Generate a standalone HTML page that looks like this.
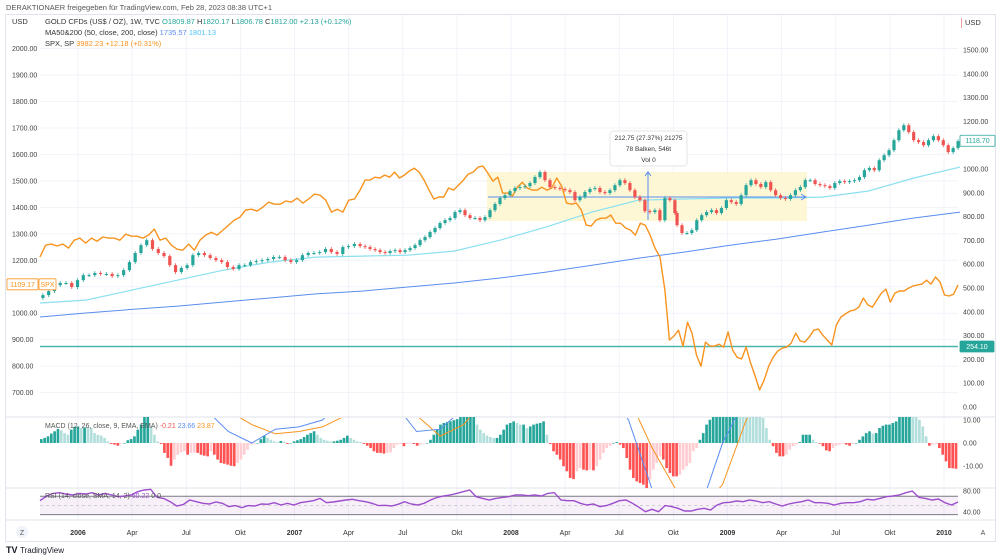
<!DOCTYPE html>
<html><head><meta charset="utf-8">
<style>
html,body{margin:0;padding:0;background:#fff;}
svg{display:block;font-family:"Liberation Sans",sans-serif;}
</style></head>
<body>
<svg id="c" width="1000" height="560" viewBox="0 0 1000 560" xmlns="http://www.w3.org/2000/svg">
<rect x="0" y="0" width="1000" height="560" fill="#fff"/>
<rect x="5.5" y="14.5" width="990" height="527" fill="none" stroke="#e0e3eb"/>
<text x="6" y="10" font-size="7.5" fill="#555">DERAKTIONAER freigegeben für TradingView.com, Feb 28, 2023 08:38 UTC+1</text>
<g id="grid"></g>
<rect x="487" y="172" width="320" height="49" fill="#fdf6cf" opacity="0.85"/>
<g id="main"></g>
<g id="macd"></g>
<g id="rsi"></g>
<g id="axes"></g>
<g font-size="7.5">
<text x="12" y="24" fill="#333">USD</text>
<text x="45" y="24" fill="#333">GOLD CFDs (US$ / OZ), 1W, TVC <tspan fill="#26a69a">O</tspan><tspan fill="#26a69a">1809.87</tspan> H<tspan fill="#26a69a">1820.17</tspan> L<tspan fill="#26a69a">1806.78</tspan> C<tspan fill="#26a69a">1812.00</tspan> <tspan fill="#26a69a">+2.13 (+0.12%)</tspan></text>
<text x="45" y="35" fill="#333">MA50&amp;200 (50, close, 200, close) <tspan fill="#5b8def">1735.57</tspan> <tspan fill="#4fc3f7">1801.13</tspan></text>
<text x="45" y="46" fill="#333">SPX, SP <tspan fill="#f7931e">3982.23</tspan> <tspan fill="#f7931e">+12.18 (+0.31%)</tspan></text>
<rect x="961" y="18" width="1" height="10" fill="#ef9a9a"/>
<text x="965" y="25" fill="#333">USD</text>
<text x="45" y="428" fill="#555" font-size="7">MACD (12, 26, close, 9, EMA, EMA) <tspan fill="#ef5350">-0.21</tspan> <tspan fill="#5b8def">23.66</tspan> <tspan fill="#f7931e">23.87</tspan></text>
<text x="45" y="498" fill="#555" font-size="7">RSI (14, close, SMA, 14, 2) <tspan fill="#9c4dcc">60.22</tspan> 0 0</text>
</g>
<g>
<rect x="610" y="131" width="77" height="35" rx="3" fill="#fff" stroke="#e6e6e6"/>
<text x="648.5" y="140" font-size="6.5" fill="#333" text-anchor="middle">212.75 (27.37%) 21275</text>
<text x="648.5" y="151" font-size="6.5" fill="#333" text-anchor="middle">78 Balken, 546t</text>
<text x="648.5" y="162" font-size="6.5" fill="#333" text-anchor="middle">Vol 0</text>
</g>
<g>
<circle cx="22" cy="532" r="6" fill="#f0f3fa"/>
<text x="22" y="535" font-size="7" fill="#555" text-anchor="middle">Z</text>
<text x="983" y="535" font-size="7" fill="#555" text-anchor="middle">A</text>
<text x="6" y="553" font-size="9" font-weight="bold" fill="#131722">TV</text>
<text x="20" y="553" font-size="8" fill="#131722">TradingView</text>
</g>
</svg>
<script>
// ---- data ----
const goldSeg1 = [470,487,512,521,521,504,533,554,554,563,559,559,550,554,575,609,647,680,701,664,647,634,596,567,584,596,638,647,638,626,617,609,588,580,596,596,609,613,617,622,630,630,617,609,617,638,647,647,651,664,651,643,672,676,685,676];
const goldSeg2 = [672,664,659,651,647,655,659,651,659,668,680,701,714,735,752,773,785,794,819,827,806,794,794,785,798,827,853,878,890,907,920,924,928,941,966,987,953,924,920,916,911,903,869,882,903,916,920,903,899,911,932,953,941,911,882,869,823,819,827,785,878,869,815];
const goldSeg3 = [764,731,731,743,785,806,819,827,815,836,869,861,853,890,932,953,937,924,945,911,890,878,874,890,911,924,953,953,937,932,928,920,941,949,945,949,953,966,995,1004,995,1037,1058,1079,1121,1163,1184,1155,1121,1113,1100,1121,1138,1121,1100,1071,1088,1117];
const goldSegDates = [[2005.838,2007.303],[2007.326,2008.757],[2008.767,2010.065]];
const spxSeg1 = [1212,1257,1261,1254,1261,1246,1276,1284,1265,1284,1272,1288,1284,1284,1276,1299,1291,1291,1284,1295,1318,1276,1284,1257,1242,1238,1261,1238,1276,1295,1306,1295,1314,1333,1352,1363,1390,1393,1386,1401,1420,1412,1412,1424,1420,1435,1416,1431,1450,1446,1427,1382,1393,1382,1427,1431,1465];
const spxSeg2 = [1503,1503,1514,1511,1522,1514,1533,1511,1522,1537,1548,1533,1503,1465,1431,1439,1439,1473,1465,1484,1503,1526,1533,1552,1556,1529,1499,1514,1454,1454,1443,1476,1495,1473,1465,1465,1476,1465,1473,1511,1480,1416,1412,1416,1390,1333,1329,1352,1359,1359,1371,1340,1340,1322,1314,1295,1340,1333,1295,1246,1212];
const spxSeg3 = [1087,899,914,936,876,966,925,842,800,891,876,876,883,872,929,861,834,827,872,812,763,710,747,800,834,857,868,872,887,925,895,891,910,936,940,917,899,880,955,985,997,1008,1012,1023,1057,1031,1023,1050,1076,1091,1042,1076,1084,1084,1095,1103,1107,1110,1125,1110,1137,1118,1069,1065,1072,1107];
const spxSegDates = [[2005.824,2007.303],[2007.326,2008.688],[2008.711,2010.065]];
const ma50 = [437,449,491,533,575,609,630,634,638,655,701,756,819,869,874,878,878,882,907,962,1008];
const ma200 = [378,395,410,424,441,458,475,487,504,521,542,567,596,625,651,680,705,735,764,794,819];
const maDates = [2005.824,2010.074];
const macdHist = [1.7,2.2,2.9,4.1,5.1,6.1,5.5,4.3,3.6,5.8,7,7.2,6.5,6.8,6.7,6.5,4.3,3.6,3.2,2.2,0.7,-0.4,-0.7,-1.2,-0.3,0,1.2,1.7,2.9,5.8,8,11.3,11.6,7.2,3.6,0.7,-0.4,-4.3,-6.5,-9.9,-7.2,-5.1,-4.1,-3.6,-5.1,-4.3,-4.1,-4.3,-5.1,-5.5,-5.8,-3.6,-5.1,-7.2,-8.7,-9,-9.4,-9.9,-10.1,-8.7,-7.2,-5.1,-2.9,-0.7,-0.4,0,1.7,3.2,2.2,1.4,0.7,0.4,0.9,0.6,-0.4,0,0.7,1.2,1.7,2.6,3.6,4.3,5.1,3.6,2.2,1.4,1,0.7,0.7,1,1.4,2.2,3.2,2.2,1.4,0.7,0.4,-0.4,-1.2,-2.2,-3.6,-4.3,-4.3,-4.6,-4.3,-4.1,-2.2,-0.7,-0.4,-1.4,-0.4,-0.3,-0.4,-1.2,-0.7,-0.3,0,1.4,3.6,5.8,8,8.7,9.1,9.4,9.9,10.4,11.3,11.5,11.8,12,12.5,8,5.8,4.3,3.2,2.6,2.2,
2.2,3.6,5.8,8,8.7,9.4,8.7,8,8,6.5,7.2,8,8.4,8.7,9.4,3.6,-0.4,-3.6,-5.1,-7.2,-10.1,-12.3,-15.2,-15.7,-12.3,-10.9,-11.6,-11.9,-11.6,-11.9,-10.1,-7.2,-4.3,-2.2,-1.2,0,0.4,-0.7,-2.2,-6.5,-11.6,-15.2,-16.7,-17.4,-18.1,-19.6,-15.9,-11.6,-8.7,-5.8,-7.2,-10.9,-13,-14.5,-14.5,-13.8,-11.6,-10.1,-8.7,-3.6,-2.2,1.4,4.3,8,10.1,12,14,16,18,20,21,22,22.5,22,21,20,19,17,15,13,10.9,6.5,1.4,-1.4,-4.3,-5.8,-5.8,-5.1,-2.9,-1.4,-0.7,0.4,3.6,3.6,3.6,1.4,0.4,-0.3,-1.4,-3.2,-3.6,-2.2,-1.2,-0.7,-0.4,-0.7,-1.2,-0.4,0,1.4,2.9,4.3,5.1,4.1,4.3,6.5,7.5,8,8,8.7,9.4,12,13,14,15,14,13,10.1,7.2,2.9,-1.2,-0.7,-0.4,-2.2,-5.1,-8,-10.9,-11,-11.2];
const macdLine = [20,20,25,25,25,25,25,15,5,0,6,7,10,20,25,18,5,6,15,25,25,25,25,25,25,10,-20,-20,-30,0,20,25,25,25,25,25,25,25,25,25];
const signalLine = [11,20,25,25,25,25,25,18,14,8,4,5,7,12,25,20,12,3,8,20,25,25,25,25,25,20,-2,-20,-30,-18,10,25,25,25,25,25,25,25,25,25];
const rsiVals = [61.6,70.5,75.5,76.8,74.3,72.4,75.5,74.3,76.8,72.4,75.5,72.4,69.2,70.5,72.4,78.7,81.9,83.2,67.9,66,59.7,51.4,54,62.9,59.7,56.5,55.2,59,56.5,50.2,52.1,48.2,52.1,51.4,55.2,54.6,57.8,53.3,56.5,53.3,57.8,59.7,61.6,66,57.8,59,61,62.9,64.1,61.6,59.7,56.5,52.1,52.7,51.4,54.6,59.7,55.2,53.3,56.5,62.9,67.9,70.5,72.4,75.5,78.7,81.9,69.2,66,62.9,66,67.9,
69.2,72.4,72.4,71.1,72.4,70.5,75.5,76.8,62.9,61.6,61.6,56.5,53.3,55.2,50.2,52.1,56.5,61.6,62.9,56.5,48.9,40.6,45.1,40.6,52.1,50.2,47,41.9,41.9,45.1,47,43.8,53.3,57.8,58.4,61,59.7,62.9,61,57.8,59.7,55.2,51.4,55.2,57.8,59.7,62.9,57.8,57.8,56.5,53.3,56.5,57.8,57.8,59.7,64.1,62.9,66,69.2,70.5,72.4,76.8,79.9,67.9,66,62.9,64.8,57.8,53.3,59];
const leftTicks = [700,800,900,1000,1100,1200,1300,1400,1500,1600,1700,1800,1900,2000];
const rightTicks = [0,100,200,300,400,500,600,700,800,900,1000,1100,1200,1300,1400,1500];
const timeLabels = ["2006","Apr","Jul","Okt","2007","Apr","Jul","Okt","2008","Apr","Jul","Okt","2009","Apr","Jul","Okt","2010"];
const timeDates = [2006,2006.25,2006.5,2006.75,2007,2007.25,2007.5,2007.75,2008,2008.25,2008.5,2008.75,2009,2009.25,2009.5,2009.75,2010];
const supportLevel = 254.1;

// ---- scales ----
const X0=40, X1=958;
const xOf = d => 78 + (d-2006)*216.5;
const goldY = v => 407 - v*0.238;
const spxY = v => 75 + (1900-v)*0.2647;
const macdY = v => Math.max(417, Math.min(488, 443 - v*2.3));
const rsiY = v => 491 + (80-v)*0.525;
const NS="http://www.w3.org/2000/svg";
function mk(tag, parent, attrs){const e=document.createElementNS(NS,tag);for(const k in attrs)e.setAttribute(k,attrs[k]);parent.appendChild(e);return e;}
const grid=document.getElementById('grid'), main=document.getElementById('main'), macdG=document.getElementById('macd'), rsiG=document.getElementById('rsi'), axes=document.getElementById('axes');

// grid + axes
leftTicks.forEach(v=>{
  const y=spxY(v);
  const l=mk('line',grid,{x1:X0,x2:X1,y1:y,y2:y,stroke:'#f0f3fa','stroke-width':1});
  
  
  const t=mk('text',axes,{x:12,y:y+2.5,'font-size':7,fill:'#444'});
  t.textContent=v.toFixed(2);
  
  
});
rightTicks.forEach(v=>{
  if(v===1100) return;
  const t=mk('text',axes,{x:963,y:goldY(v)+2.5,'font-size':7,fill:'#444'});
  t.textContent=v.toFixed(2);
  
  
});
timeDates.forEach((d,i)=>{
  const x=xOf(d);
  const l=mk('line',grid,{x1:x,x2:x,y1:15,y2:520,stroke:'#f0f3fa','stroke-width':1});
  
  
  const bold=/^\d/.test(timeLabels[i]);
  const t=mk('text',axes,{x:x,y:535,'font-size':7,fill:'#333','text-anchor':'middle','font-weight':bold?'bold':'normal'});
  t.textContent=timeLabels[i];
  
  
});
[417,488,520].forEach(y=>{
  const l=mk('line',grid,{x1:6,x2:995,y1:y,y2:y,stroke:'#e0e3eb','stroke-width':1});
  
  
});
[[10,'10.00'],[0,'0.00'],[-10,'-10.00']].forEach(([v,s])=>{
  const t=mk('text',axes,{x:963,y:macdY(v)+2.5,'font-size':7,fill:'#444'});
  t.textContent=s;
  
  
});
[[80,'80.00'],[40,'40.00']].forEach(([v,s])=>{
  const t=mk('text',axes,{x:963,y:rsiY(v)+2.5,'font-size':7,fill:'#444'});
  t.textContent=s;
  
  
});

// MA lines
function maPath(arr){const n=arr.length;return arr.map((v,i)=>{const x=xOf(maDates[0]+(maDates[1]-maDates[0])*i/(n-1));return (i?'L':'M')+x.toFixed(1)+' '+goldY(v).toFixed(1);}).join(' ');}
const m2=mk('path',main,{d:maPath(ma200),fill:'none',stroke:'#5b8def','stroke-width':1});


const m5=mk('path',main,{d:maPath(ma50),fill:'none',stroke:'#8be0f0','stroke-width':1.2});



// support line
const sy=goldY(supportLevel);
const sl=mk('line',main,{x1:X0,x2:X1,y1:sy,y2:sy,stroke:'#4db6ac','stroke-width':1.5});



// measure arrows
const ha=mk('path',main,{d:'M488 197 L806 197 M801 194 L806 197 L801 200',fill:'none',stroke:'#5b8def','stroke-width':1});


const va=mk('path',main,{d:'M648 220 L648 172 M645 176 L648 172 L651 176',fill:'none',stroke:'#5b8def','stroke-width':1});



// SPX line
let spxD='';
[[spxSeg1,0],[spxSeg2,1],[spxSeg3,2]].forEach(([seg,k])=>{
  const [d0,d1]=spxSegDates[k];
  seg.forEach((v,i)=>{const x=xOf(d0+(d1-d0)*i/(seg.length-1));spxD+=(spxD?'L':'M')+x.toFixed(1)+' '+spxY(v).toFixed(1)+' ';});
});
const sp=mk('path',main,{d:spxD,fill:'none',stroke:'#f7931e','stroke-width':1.4,'stroke-linejoin':'round'});



// candles
let prev=null;
[[goldSeg1,0],[goldSeg2,1],[goldSeg3,2]].forEach(([seg,k])=>{
  const [d0,d1]=goldSegDates[k];
  seg.forEach((c,i)=>{
    const x=xOf(d0+(d1-d0)*i/(seg.length-1));
    const o=prev===null?c-12:prev;
    const up=c>=o, col=up?'#26a69a':'#ef5350';
    const hi=Math.max(o,c)+8, lo=Math.min(o,c)-8;
    const g=mk('g',main,{});
    
    
    mk('line',g,{x1:x,x2:x,y1:goldY(hi),y2:goldY(lo),stroke:col,'stroke-width':0.8});
    const yt=goldY(Math.max(o,c)), yb=goldY(Math.min(o,c));
    mk('rect',g,{x:x-1.6,y:yt,width:3.2,height:Math.max(1,yb-yt),fill:col});
    prev=c;
  });
});

// MACD histogram
const nH=macdHist.length, step=(X1-X0)/nH;
macdHist.forEach((v,i)=>{
  const p=i?macdHist[i-1]:v;
  const col=v>=0?(v>=p?'#26a69a':'#b2dfdb'):(v<=p?'#ff5252':'#ffcdd2');
  const y0=macdY(0), y1=macdY(v);
  const r=mk('rect',macdG,{x:X0+i*step,y:Math.min(y0,y1),width:step*0.8,height:Math.max(0.5,Math.abs(y1-y0)),fill:col});
  
  
});
function linePath(arr,yf){const n=arr.length;return arr.map((v,i)=>(i?'L':'M')+(X0+(X1-X0)*i/(n-1)).toFixed(1)+' '+yf(v).toFixed(1)).join(' ');}
const clip=mk('clipPath',document.getElementById('c'),{id:'macdclip'});
mk('rect',clip,{x:X0,y:418,width:X1-X0,height:70});
const sg=mk('path',macdG,{d:linePath(signalLine,v=>443-v*2.3),fill:'none',stroke:'#f7931e','stroke-width':1,'clip-path':'url(#macdclip)'});


const ml=mk('path',macdG,{d:linePath(macdLine,v=>443-v*2.3),fill:'none',stroke:'#5b8def','stroke-width':1,'clip-path':'url(#macdclip)'});



// RSI
const band=mk('rect',rsiG,{x:X0,y:rsiY(70),width:X1-X0,height:rsiY(35)-rsiY(70),fill:'#9c27b0',opacity:0.07});


[70,35].forEach(v=>{
  const l=mk('line',rsiG,{x1:X0,x2:X1,y1:rsiY(v),y2:rsiY(v),stroke:'#787b86','stroke-width':1});
  
  
});
const mid=mk('line',rsiG,{x1:X0,x2:X1,y1:rsiY(52.5),y2:rsiY(52.5),stroke:'#c9c9d0','stroke-width':0.8,'stroke-dasharray':'3 3'});


const rl=mk('path',rsiG,{d:linePath(rsiVals,rsiY),fill:'none',stroke:'#9c4dcc','stroke-width':1.4});



// price labels
function label(x,y,w,txt,fill,stroke,tc,name){
  const g=mk('g',axes,{});
  
  
  mk('rect',g,{x:x,y:y-5.5,width:w,height:11,fill:fill,stroke:stroke,'stroke-width':0.8,rx:1});
  const t=mk('text',g,{x:x+w/2,y:y+2.5,'font-size':7,fill:tc,'text-anchor':'middle'});
  t.textContent=txt;
}
label(7,spxY(1109.17),31,'1109.17','#fff','#f7931e','#f7931e','spx-price-label');
label(39,spxY(1109.17),17,'SPX','#fff','#f7931e','#f7931e','spx-name-label');
label(960,goldY(1118.7),35,'1118.70','#fff','#26a69a','#26a69a','gold-price-label');
label(960,sy,34,'254.10','#26a69a','#26a69a','#fff','support-price-label');
</script>
</body></html>
